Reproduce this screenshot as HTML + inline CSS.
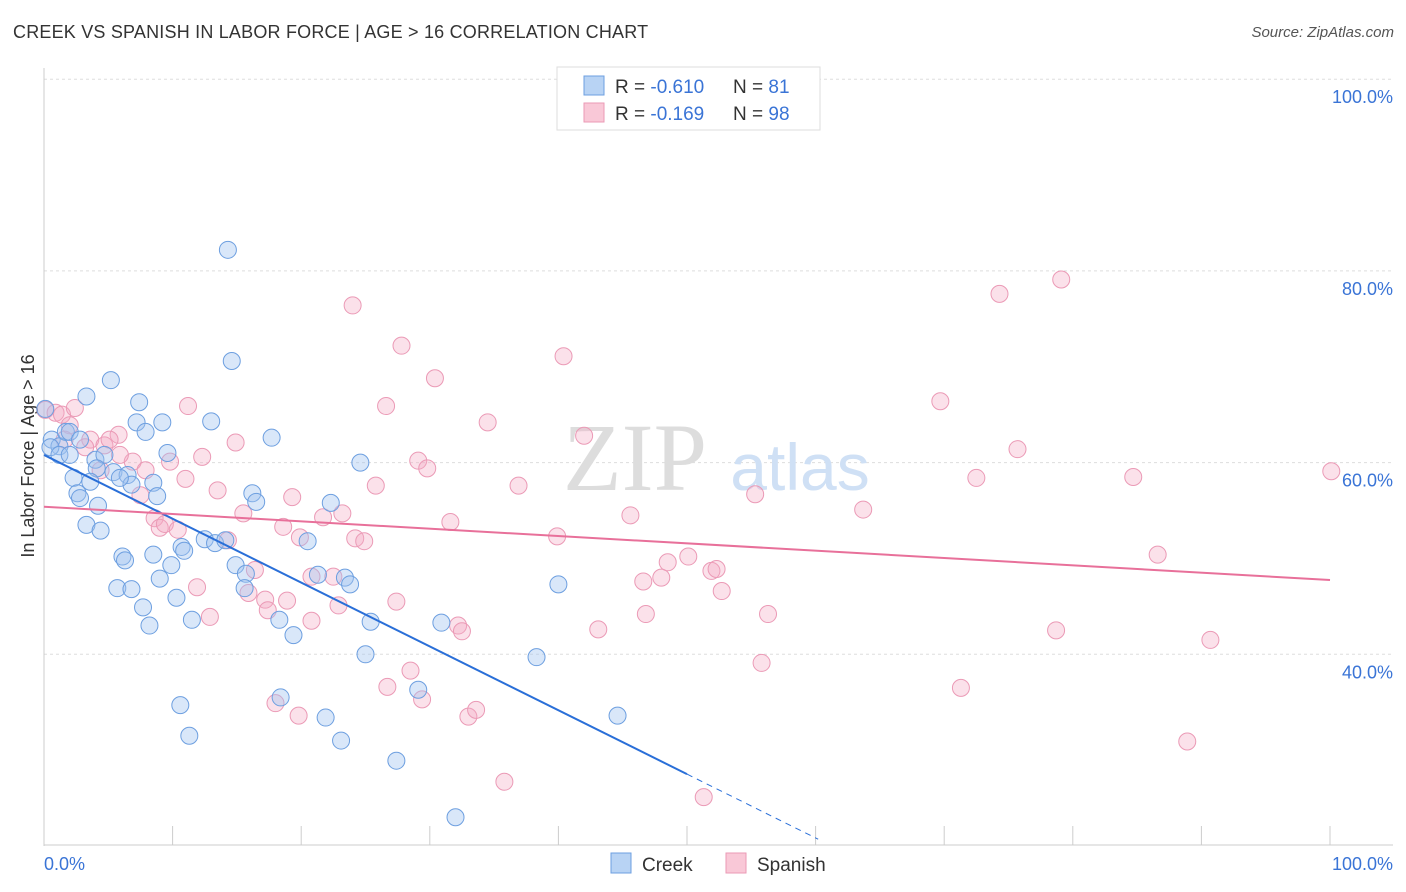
<!DOCTYPE html>
<html><head><meta charset="utf-8"><style>
body{margin:0;background:#fff;font-family:"Liberation Sans",sans-serif;}
#c{position:relative;width:1406px;height:892px;overflow:hidden}
.t{position:absolute;white-space:nowrap}
</style></head><body>
<div id="c">
<div class="t" style="left:13px;top:22px;font-size:18px;color:#333;letter-spacing:0.2px">CREEK VS SPANISH IN LABOR FORCE | AGE &gt; 16 CORRELATION CHART</div>
<div class="t" style="right:12px;top:24px;font-size:15px;color:#555;font-style:italic">Source: ZipAtlas.com</div>
<svg id="s" width="1406" height="892" style="position:absolute;left:0;top:0"></svg>
</div>
<script>
const creekX=[14.3,14.6,5.2,3.3,7.4,9.2,13.0,7.2,7.9,17.7,0.6,1.2,1.7,2.0,2.8,4.0,4.7,4.1,5.4,6.5,8.5,6.8,2.3,3.6,9.6,24.6,2.6,2.8,4.2,8.8,16.2,16.5,22.3,3.3,4.4,20.5,12.5,13.3,14.1,10.7,10.9,8.5,6.1,6.3,9.9,14.9,9.0,15.7,21.3,23.4,23.8,5.7,6.8,15.6,40.0,7.7,10.3,11.5,8.2,18.3,25.4,19.4,30.9,25.0,38.3,18.4,10.6,29.1,21.9,44.6,11.3,23.1,27.4,32.0,0.5,1.2,5.9,2.0,0.1];
const creekY=[82.2,70.6,68.6,66.9,66.3,64.2,64.3,64.2,63.2,62.6,62.4,61.7,63.2,63.2,62.4,60.3,60.8,59.4,59.0,58.7,57.9,57.7,58.4,58.0,61.0,60.0,56.8,56.3,55.5,56.5,56.8,55.9,55.8,53.5,52.9,51.8,52.0,51.6,51.9,51.2,50.8,50.4,50.2,49.8,49.3,49.3,47.9,48.4,48.3,48.0,47.3,46.9,46.8,46.9,47.3,44.9,45.9,43.6,43.0,43.6,43.4,42.0,43.3,40.0,39.7,35.5,34.7,36.3,33.4,33.6,31.5,31.0,28.9,23.0,61.6,60.8,58.4,60.8,65.6];
const spanishX=[0.1,0.9,1.4,2.4,2.0,3.6,4.7,5.8,3.2,4.4,6.9,7.9,9.8,11.2,12.3,14.9,11.0,13.5,7.5,8.6,9.0,9.4,10.4,15.5,14.3,11.9,12.9,15.9,16.4,17.2,17.4,18.9,19.3,18.6,19.9,21.7,23.2,24.0,26.6,27.8,30.4,29.1,29.8,25.8,24.2,24.9,22.5,20.8,22.9,27.4,20.8,18.0,19.8,26.7,28.5,29.4,33.0,33.6,32.2,32.5,31.6,34.5,36.9,35.8,40.4,42.0,39.9,43.1,45.6,46.6,46.8,48.0,48.5,50.1,51.9,52.3,52.7,51.3,55.8,56.3,55.3,63.7,69.7,71.3,74.3,79.1,72.5,75.7,78.7,84.7,86.6,88.9,90.7,100.1,5.9,5.1,1.6];
const spanishY=[65.5,65.2,65.0,65.7,63.9,62.4,61.8,62.9,61.6,59.2,60.1,59.2,60.1,65.9,60.6,62.1,58.3,57.1,56.6,54.2,53.2,53.6,53.0,54.7,51.9,47.0,43.9,46.4,48.8,45.7,44.6,45.6,56.4,53.3,52.2,54.3,54.7,76.4,65.9,72.2,68.8,60.2,59.4,57.6,52.1,51.8,48.1,43.5,45.1,45.5,48.1,34.9,33.6,36.6,38.3,35.3,33.5,34.2,43.0,42.4,53.8,64.2,57.6,26.7,71.1,62.8,52.3,42.6,54.5,47.6,44.2,48.0,49.6,50.2,48.7,48.9,46.6,25.1,39.1,44.2,56.7,55.1,66.4,36.5,77.6,79.1,58.4,61.4,42.5,58.5,50.4,30.9,41.5,59.1,60.8,62.4,62.4];
const yTicks=[100,80,60,40];
const yTickLabels=["100.0%","80.0%","60.0%","40.0%"];
const creekTrend=[60.8,-0.666];   // intercept, slope
const spanishTrend=[55.4,-0.0765];

const NS="http://www.w3.org/2000/svg";
const svg=document.getElementById('s');
const X=v=>44+v*12.86, Y=v=>846-(v-20)*9.585;
function mk(tag,a,parent){const e=document.createElementNS(NS,tag);for(const k in a)e.setAttribute(k,a[k]);(parent||svg).appendChild(e);return e;}
function tx(str,a){const e=mk('text',a);e.textContent=str;return e;}

yTicks.forEach((v,i)=>{
  const g=mk('line',{x1:44,x2:1393,y1:Y(v),y2:Y(v),stroke:'#ddd','stroke-dasharray':'3,3'});
  
  
  const t=tx(yTickLabels[i],{x:1393,y:Y(v)+24,'text-anchor':'end','font-size':18,fill:'#3a74d6','font-family':'Liberation Sans'});
  
  
});
const ax=mk('line',{x1:44,x2:44,y1:68,y2:846,stroke:'#ccc'});


const bx=mk('line',{x1:44,x2:1393,y1:845,y2:845,stroke:'#ccc'});


for(let i=0;i<=10;i++){
  const k=mk('line',{x1:X(i*10),x2:X(i*10),y1:826,y2:845,stroke:'#ccc'});
  
  
}
let t;
t=tx('0.0%',{x:44,y:870,'font-size':18,fill:'#3a74d6'});
t=tx('100.0%',{x:1393,y:870,'text-anchor':'end','font-size':18,fill:'#3a74d6'});
t=tx('In Labor Force | Age > 16',{x:0,y:0,'font-size':18,fill:'#333',transform:'translate(34,456) rotate(-90)','text-anchor':'middle'});

t=tx('ZIP',{x:635,y:490,'font-size':96,fill:'#ddd','font-family':'Liberation Serif','text-anchor':'middle'});
t=tx('atlas',{x:800,y:490,'font-size':66,fill:'#cfe0f5','text-anchor':'middle'});

spanishX.forEach((v,i)=>{
  const c=mk('circle',{cx:X(v),cy:Y(spanishY[i]),r:8.5,fill:'rgba(244,170,195,0.35)',stroke:'#eb9ab6','stroke-width':1});
  
  
});
creekX.forEach((v,i)=>{
  const c=mk('circle',{cx:X(v),cy:Y(creekY[i]),r:8.5,fill:'rgba(160,195,240,0.4)',stroke:'#6d9fe0','stroke-width':1});
  
  
});
const cy=x=>creekTrend[0]+creekTrend[1]*x;
let l=mk('line',{x1:X(0),y1:Y(cy(0)),x2:X(50),y2:Y(cy(50)),stroke:'#2a6fd8','stroke-width':2});

l=mk('line',{x1:X(50),y1:Y(cy(50)),x2:X(60.2),y2:Y(cy(60.2)),stroke:'#2a6fd8','stroke-width':1,'stroke-dasharray':'6,5'});

const sy=x=>spanishTrend[0]+spanishTrend[1]*x;
l=mk('line',{x1:X(0),y1:Y(sy(0)),x2:X(100),y2:Y(sy(100)),stroke:'#e8709a','stroke-width':2});


// top legend
let r=mk('rect',{x:557,y:67,width:263,height:63,fill:'#fff',stroke:'#ddd'});
r=mk('rect',{x:584,y:76,width:20,height:19,fill:'#b8d3f4',stroke:'#6d9fe0'});
r=mk('rect',{x:584,y:103,width:20,height:19,fill:'#f9c8d7',stroke:'#eb9ab6'});
function stat(y,rv,nv,name){
  const e=mk('text',{x:615,y:y,'font-size':19,fill:'#333'});
  
  
  e.innerHTML='R = <tspan fill="#3a74d6">'+rv+'</tspan><tspan x="733">N = </tspan><tspan fill="#3a74d6">'+nv+'</tspan>';
}
stat(93,' -0.610','  81','creek-stats');
stat(120,' -0.169','98','spanish-stats');
// bottom legend
r=mk('rect',{x:611,y:853,width:20,height:20,fill:'#b8d3f4',stroke:'#6d9fe0'});
t=tx('Creek',{x:642,y:871,'font-size':19,fill:'#333'});
r=mk('rect',{x:726,y:853,width:20,height:20,fill:'#f9c8d7',stroke:'#eb9ab6'});
t=tx('Spanish',{x:757,y:871,'font-size':19,fill:'#333'});
</script>
</body></html>
